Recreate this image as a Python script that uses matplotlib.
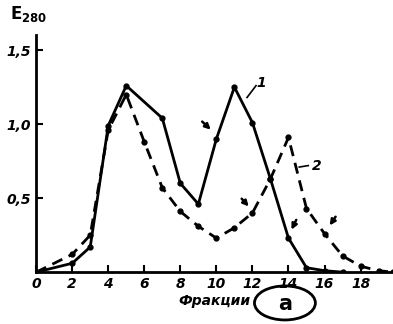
import matplotlib.pyplot as plt
from matplotlib.patches import Ellipse

# кривая 1 (сплошная)
x1 = [0, 2, 3, 4, 5, 7, 8, 9, 10, 11, 12, 13, 14, 15, 16, 17]
y1 = [0, 0.06, 0.17, 0.99, 1.26, 1.04, 0.6, 0.46, 0.9, 1.25, 1.01, 0.63, 0.23, 0.03, 0.01, 0]

# кривая 2 (пунктир)
x2 = [0, 2, 3, 4, 5, 6, 7, 8, 9, 10, 11, 12, 13, 14, 15, 16, 17, 18, 19, 19.8]
y2 = [0, 0.12, 0.25, 0.96, 1.2, 0.88, 0.57, 0.41, 0.31, 0.23, 0.3, 0.4, 0.63, 0.91, 0.43, 0.26, 0.11, 0.04, 0.01, 0]

xticks = [0, 2, 4, 6, 8, 10, 12, 14, 16, 18]
xlabels = ['0', '2', '4', '6', '8', '10', '12', '14', '16', '18']
yticks = [0.5, 1.0, 1.5]
ylabels = ['0,5', '1,0', '1,5']

plt.rcParams['font.family'] = ['DejaVu Sans']
fig = plt.figure(figsize=(3.93, 3.24), dpi=100)
ax = fig.add_axes([0.092, 0.16, 0.908, 0.731])

ax.plot(x1, y1, '-', color='black', lw=2, marker='o', ms=3.5)
ax.plot(x2, y2, '--', color='black', lw=2, marker='o', ms=3.5, dashes=(4, 2.5))

ax.set_xlim(0, 19.8)
ax.set_ylim(0, 1.6)
ax.spines['top'].set_visible(False)
ax.spines['right'].set_visible(False)
ax.spines['left'].set_linewidth(2)
ax.spines['bottom'].set_linewidth(2)
ax.tick_params(direction='in', length=5, width=1.5)

fnt = dict(fontweight='bold', fontstyle='italic', fontsize=10)
ax.set_xticks(xticks)
ax.set_xticklabels(xlabels, **fnt)
ax.set_yticks(yticks)
ax.set_yticklabels(ylabels, **fnt)
ax.set_xlabel('Фракции', fontweight='bold', fontstyle='italic', fontsize=10, labelpad=2)

fig.text(0.025, 0.94, r'$\mathbf{E}_{\mathbf{280}}$', fontsize=12)

# номера кривых
ax.text(12.2, 1.25, '1', **fnt)
ax.plot([11.7, 12.2], [1.18, 1.26], color='black', lw=1.2)
ax.text(15.3, 0.69, '2', **fnt)
ax.plot([14.6, 15.1], [0.71, 0.72], color='black', lw=1.2)

# стрелки
arrows = [((9.1, 1.03), (9.8, 0.95)), ((11.3, 0.51), (11.9, 0.43)),
          ((14.5, 0.37), (14.1, 0.27)), ((16.7, 0.39), (16.2, 0.30))]
for start, end in arrows:
    ax.annotate('', xy=end, xytext=start,
                arrowprops=dict(arrowstyle='-|>', color='black', lw=1.8, mutation_scale=8))

# буква (а) в овале
fig.text(0.725, 0.062, 'a', fontsize=15, fontweight='bold', ha='center', va='center')
fig.patches.append(Ellipse((0.725, 0.065), 0.155, 0.105, transform=fig.transFigure,
                           fc='none', ec='black', lw=2))

fig.savefig('out.png', dpi=100)
